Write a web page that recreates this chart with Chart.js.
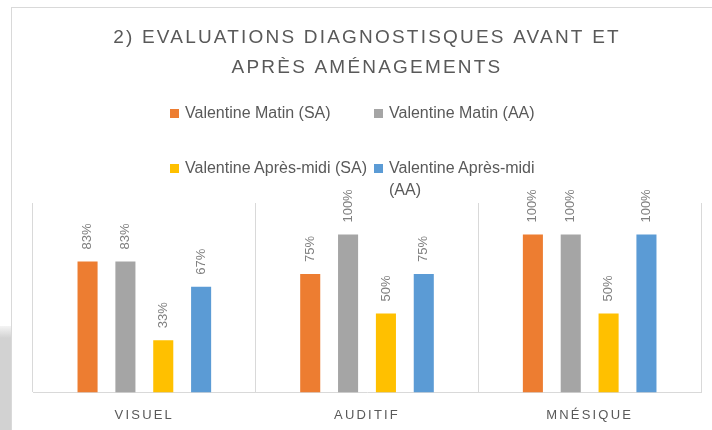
<!DOCTYPE html>
<html>
<head>
<meta charset="utf-8">
<script src="https://cdn.jsdelivr.net/npm/chart.js@4.4.1/dist/chart.umd.min.js"></script>
<style>
    html, body { margin: 0; padding: 0; background: #fff; }
    #wrap { position: relative; width: 712px; height: 430px; overflow: hidden; }
    #frame { position: absolute; left: 11px; top: 7px; width: 800px; height: 500px; border: 1px solid #d9d9d9; box-sizing: border-box; }
    #strip { position: absolute; left: 0; top: 326px; width: 11px; height: 104px; background: linear-gradient(#f4f4f4, #d2d2d2 12px, #d2d2d2); }
    canvas { position: absolute; left: 0; top: 0; }
    #legend { position: absolute; left: 170px; top: 102px; display: grid; grid-template-columns: 204px 180px; grid-template-rows: 22px auto; row-gap: 33px;
              font-family: "Liberation Sans"; font-size: 16px; line-height: 22px; color: #595959; }
    .item { display: flex; align-items: flex-start; }
    .box { width: 9px; height: 9px; margin-top: 7px; margin-right: 6px; flex: none; }
    .item:nth-child(odd) .txt { white-space: nowrap; }
    .item:nth-child(even) .txt { max-width: 162px; }
</style>
</head>
<body>
<div id="wrap">
    <div id="frame"></div>
    <div id="strip"></div>
    <canvas id="myChart" width="712" height="438"></canvas>
    <div id="legend"></div>
</div>
<script>
const categories = ['VISUEL', 'AUDITIF', 'MNÉSIQUE']
const seriesNames = ['Valentine Matin (SA)', 'Valentine Matin (AA)', 'Valentine Après-midi (SA)', 'Valentine Après-midi (AA)']
const seriesColors = ['#ED7D31', '#A5A5A5', '#FFC000', '#5B9BD5']
const matinSA = [83, 75, 100]
const matinAA = [83, 100, 100]
const apresMidiSA = [33, 50, 50]
const apresMidiAA = [67, 75, 100]
const titleLines = ['2) EVALUATIONS DIAGNOSTISQUES AVANT ET', 'APRÈS AMÉNAGEMENTS']

const seriesValues = [matinSA, matinAA, apresMidiSA, apresMidiAA]

// legend built by hand because the last label wraps on two lines
const legend = document.getElementById('legend')
seriesNames.forEach((name, i) => {
    let item = document.createElement('div')
    item.className = 'item'
    let box = document.createElement('span')
    box.className = 'box'
    box.style.background = seriesColors[i]
    let txt = document.createElement('span')
    txt.className = 'txt'
    txt.textContent = name
    item.append(box, txt)
    legend.append(item)
})

// letter spacing for title/ticks + rotated value labels over the bars
const spacingAndLabels = {
    id: 'spacingAndLabels',
    beforeDraw(chart) {
        chart.ctx.letterSpacing = '2.2px'
    },
    afterDatasetsDraw(chart) {
        const ctx = chart.ctx
        ctx.save()
        ctx.letterSpacing = '0px'
        ctx.font = '13px "Liberation Sans"'
        ctx.fillStyle = '#7f7f7f'
        ctx.textAlign = 'left'
        ctx.textBaseline = 'middle'
        chart.data.datasets.forEach((ds, i) => {
            chart.getDatasetMeta(i).data.forEach((bar, j) => {
                ctx.save()
                ctx.translate(bar.x, bar.y - 12)
                ctx.rotate(-Math.PI / 2)
                ctx.fillText(ds.data[j] + '%', 0, 0)
                ctx.restore()
            })
        })
        ctx.restore()
    }
}

const ctx = document.getElementById('myChart')
new Chart(ctx, {
    type: 'bar',
    data: {
        labels: categories,
        datasets: seriesNames.map((name, i) => ({
            label: name,
            data: seriesValues[i],
            backgroundColor: seriesColors[i],
            categoryPercentage: 0.68,
            barPercentage: 0.53
        }))
    },
    options: {
        responsive: false,
        animation: false,
        layout: { padding: { left: 33, right: 11, top: 0, bottom: 0 } },
        plugins: {
            legend: { display: false },
            tooltip: { enabled: false },
            title: {
                display: true,
                text: titleLines,
                color: '#595959',
                font: { family: 'Liberation Sans', size: 19, weight: 'normal', lineHeight: 30 / 19 },
                padding: { top: 23, bottom: 120 }
            }
        },
        scales: {
            x: {
                grid: { color: '#d9d9d9', drawTicks: false },
                border: { color: '#d9d9d9' },
                ticks: { color: '#595959', font: { family: 'Liberation Sans', size: 13 }, padding: 15 }
            },
            y: { display: false, min: 0, max: 120 }
        }
    },
    plugins: [spacingAndLabels]
})
</script>
</body>
</html>
